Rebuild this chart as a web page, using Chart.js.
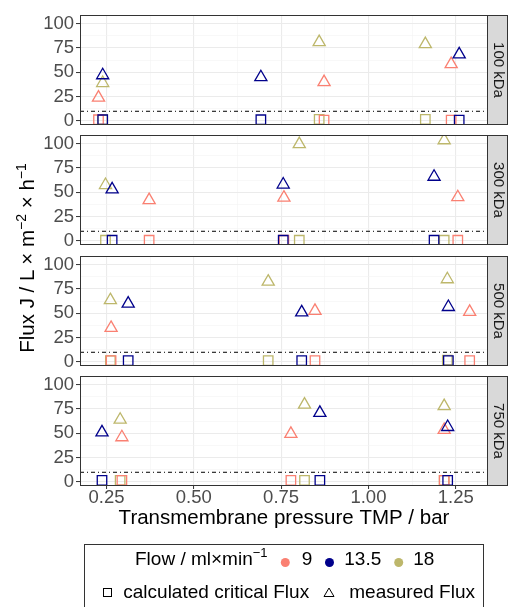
<!DOCTYPE html>
<html>
<head>
<meta charset="utf-8">
<script src="https://cdn.jsdelivr.net/npm/chart.js@4.4.1/dist/chart.umd.min.js"></script>
<style>
  body { margin: 0; background: #fff; }
  #wrap { position: relative; width: 508px; height: 607px; overflow: hidden; }
  canvas { position: absolute; left: 0; }
  #overlay { position: absolute; left: 0; top: 0; }
</style>
</head>
<body>
<div id="wrap">
  <canvas id="c0"></canvas>
  <canvas id="c1"></canvas>
  <canvas id="c2"></canvas>
  <canvas id="c3"></canvas>
  <svg id="overlay" width="508" height="607" font-family="'Liberation Sans', Arial, sans-serif">
    <text transform="translate(33.5,258) rotate(-90)" text-anchor="middle" font-size="20.5" fill="#000">Flux J / L × m<tspan font-size="14" dy="-8">−2</tspan><tspan dy="8"> × h</tspan><tspan font-size="14" dy="-8">−1</tspan></text>
    <rect x="84.5" y="544.5" width="399" height="80" fill="none" stroke="#333" stroke-width="1"/>
    <text x="135" y="565" font-size="19" fill="#000">Flow / ml×min<tspan font-size="13" dy="-8">−1</tspan></text>
    <circle cx="285.3" cy="562.5" r="4.5" fill="#FA8072"/>
    <text x="301.7" y="565" font-size="19" fill="#000">9</text>
    <circle cx="329.5" cy="562.5" r="4.5" fill="#00008B"/>
    <text x="344.3" y="565" font-size="19" fill="#000">13.5</text>
    <circle cx="398.7" cy="562.5" r="4.5" fill="#BDB76B"/>
    <text x="413.3" y="565" font-size="19" fill="#000">18</text>
    <rect x="103.5" y="588.5" width="8" height="8" fill="none" stroke="#000" stroke-width="1"/>
    <text x="123.3" y="598" font-size="19" fill="#000">calculated critical Flux</text>
    <polygon points="329,588 334,596.5 324,596.5" fill="none" stroke="#000" stroke-width="1"/>
    <text x="349.3" y="598" font-size="19" fill="#000">measured Flux</text>
  </svg>
</div>
<script>
// facets (membrane cut-off) and flow levels
const panelLabels = ["100 kDa", "300 kDa", "500 kDa", "750 kDa"];

// TMP / bar, one row per panel, three pressure levels each
const tmp9 = [[0.227, 0.873, 1.237], [0.372, 0.758, 1.256], [0.263, 0.847, 1.290], [0.294, 0.778, 1.217]];
const tmp13_5 = [[0.239, 0.692, 1.260], [0.266, 0.756, 1.188], [0.312, 0.809, 1.229], [0.237, 0.861, 1.227]];
const tmp18 = [[0.239, 0.859, 1.163], [0.247, 0.802, 1.217], [0.261, 0.713, 1.226], [0.289, 0.817, 1.217]];

// measured flux (triangles)
const measured9 = [[24, 40, 58.5], [42, 44.5, 45], [35, 52.5, 51.5], [46, 49.5, 53.5]];
const measured13_5 = [[47, 45, 68.5], [53, 58, 66], [60, 51, 56.5], [51, 71, 56.5]];
const measured18 = [[39, 81, 79], [57.5, 99.5, 103.5], [63.5, 82.5, 85], [64, 79.5, 78]];

// calculated critical flux (squares)
const critical9 = [[1.3, 0.9, 0.9], [0.8, 0.8, 0.8], [1.5, 1.5, 1.5], [1.7, 1.7, 1.7]];
const critical13_5 = [[1.3, 1.3, 0.9], [0.8, 0.8, 0.8], [1.5, 1.5, 1.5], [1.7, 1.7, 1.7]];
const critical18 = [[1.3, 1.7, 1.7], [0.8, 0.8, 0.8], [1.5, 1.5, 2.0], [1.7, 1.7, 1.7]];

const criticalLine = 10;

const xTicks = [0.25, 0.5, 0.75, 1.0, 1.25];
const xMinor = [0.375, 0.625, 0.875, 1.125];
const yTicks = [0, 25, 50, 75, 100];
const yMinor = [12.5, 37.5, 62.5, 87.5];
const xRange = [0.174, 1.3425];
const yRange = [-4.1, 108.9];

// first dataset is drawn on top in Chart.js
const series = [
  { label: "13.5", color: "#00008B", tmp: tmp13_5, measured: measured13_5, critical: critical13_5 },
  { label: "9", color: "#FA8072", tmp: tmp9, measured: measured9, critical: critical9 },
  { label: "18", color: "#BDB76B", tmp: tmp18, measured: measured18, critical: critical18 }
];

const FONT = "'Liberation Sans', Arial, sans-serif";
const panelTops = [15, 135, 256, 376];
const panelH = 110;

const isMajor = (list, v) => list.some(t => Math.abs(t - v) < 1e-9);
const xAll = xTicks.concat(xMinor).sort((a, b) => a - b);
const yAll = yTicks.concat(yMinor).sort((a, b) => a - b);

// panel border + facet strip on the right
const panelFrame = {
  id: "panelFrame",
  afterDatasetsDraw(chart, args, opts) {
    const { ctx, chartArea: a } = chart;
    ctx.save();
    ctx.strokeStyle = "#333333";
    ctx.lineWidth = 1;
    ctx.strokeRect(a.left + 0.5, a.top + 0.5, a.right - a.left - 1, a.bottom - a.top - 1);
    ctx.fillStyle = "#D9D9D9";
    ctx.fillRect(a.right, a.top, 20, a.bottom - a.top);
    ctx.strokeRect(a.right - 0.5, a.top + 0.5, 20, a.bottom - a.top - 1);
    ctx.translate(a.right + 10, (a.top + a.bottom) / 2);
    ctx.rotate(Math.PI / 2);
    ctx.fillStyle = "#1A1A1A";
    ctx.font = "15px " + FONT;
    ctx.textAlign = "center";
    ctx.textBaseline = "middle";
    ctx.fillText(opts.label, 0, 0);
    ctx.restore();
  }
};

function buildDatasets(p) {
  const out = [];
  series.forEach(s => {
    out.push({
      label: s.label + " measured",
      data: s.tmp[p].map((x, k) => ({ x: x, y: s.measured[p][k] })),
      pointStyle: "triangle",
      pointRadius: 7,
      borderColor: s.color,
      backgroundColor: "rgba(0,0,0,0)",
      borderWidth: 1.3
    });
  });
  series.forEach(s => {
    out.push({
      label: s.label + " critical",
      data: s.tmp[p].map((x, k) => ({ x: x, y: s.critical[p][k] })),
      pointStyle: "rect",
      pointRadius: 6.7,
      borderColor: s.color,
      backgroundColor: "rgba(0,0,0,0)",
      borderWidth: 1.3
    });
  });
  out.push({
    label: "threshold",
    data: [{ x: xRange[0], y: criticalLine }, { x: xRange[1], y: criticalLine }],
    showLine: true,
    borderColor: "#000",
    borderWidth: 1,
    borderDash: [4, 3, 1, 3],
    pointRadius: 0
  });
  return out;
}

function makePanel(p) {
  const last = p === panelLabels.length - 1;
  const canvas = document.getElementById("c" + p);
  const axisH = last ? 54 : 0;
  canvas.width = 508;
  canvas.height = 3 + panelH + (last ? axisH : 3);
  canvas.style.top = (panelTops[p] - 3) + "px";

  new Chart(canvas, {
    type: "scatter",
    data: { datasets: buildDatasets(p) },
    options: {
      responsive: false,
      animation: false,
      events: [],
      layout: { autoPadding: false, padding: { top: 3, bottom: last ? 0 : 3, left: 0, right: 20 } },
      plugins: {
        legend: { display: false },
        tooltip: { enabled: false },
        panelFrame: { label: panelLabels[p] }
      },
      scales: {
        x: {
          type: "linear",
          min: xRange[0],
          max: xRange[1],
          afterBuildTicks: s => { s.ticks = xAll.map(v => ({ value: v })); },
          afterFit: s => { s.height = axisH; s.paddingLeft = 0; s.paddingRight = 0; },
          border: { display: false },
          grid: {
            color: c => (c.tick && isMajor(xTicks, c.tick.value)) ? "#EBEBEB" : "#F3F3F3",
            lineWidth: c => (c.tick && isMajor(xTicks, c.tick.value)) ? 1.1 : 0.6,
            drawTicks: last,
            tickLength: 3,
            tickWidth: 1,
            tickColor: c => (c.tick && isMajor(xTicks, c.tick.value)) ? "#333333" : "rgba(0,0,0,0)"
          },
          ticks: {
            display: last,
            autoSkip: false,
            maxRotation: 0,
            padding: 1,
            color: "#4D4D4D",
            font: { family: FONT, size: 18.5, lineHeight: 0.9 },
            callback: v => isMajor(xTicks, v) ? v.toFixed(2) : ""
          },
          title: {
            display: last,
            text: "Transmembrane pressure TMP / bar",
            color: "#000",
            font: { family: FONT, size: 20.5, lineHeight: 1.2 },
            padding: { top: 0, bottom: 9 }
          }
        },
        y: {
          type: "linear",
          min: yRange[0],
          max: yRange[1],
          afterBuildTicks: s => { s.ticks = yAll.map(v => ({ value: v })); },
          afterFit: s => { s.width = 80; s.paddingTop = 0; s.paddingBottom = 0; },
          border: { display: false },
          grid: {
            color: c => (c.tick && isMajor(yTicks, c.tick.value)) ? "#EBEBEB" : "#F3F3F3",
            lineWidth: c => (c.tick && isMajor(yTicks, c.tick.value)) ? 1.1 : 0.6,
            tickLength: 4,
            tickWidth: 1,
            tickColor: c => (c.tick && isMajor(yTicks, c.tick.value)) ? "#333333" : "rgba(0,0,0,0)"
          },
          ticks: {
            autoSkip: false,
            padding: 2,
            color: "#4D4D4D",
            font: { family: FONT, size: 18.5 },
            callback: v => isMajor(yTicks, v) ? String(v) : ""
          }
        }
      }
    },
    plugins: [panelFrame]
  });
}

panelLabels.forEach((_, p) => makePanel(p));
</script>
</body>
</html>
